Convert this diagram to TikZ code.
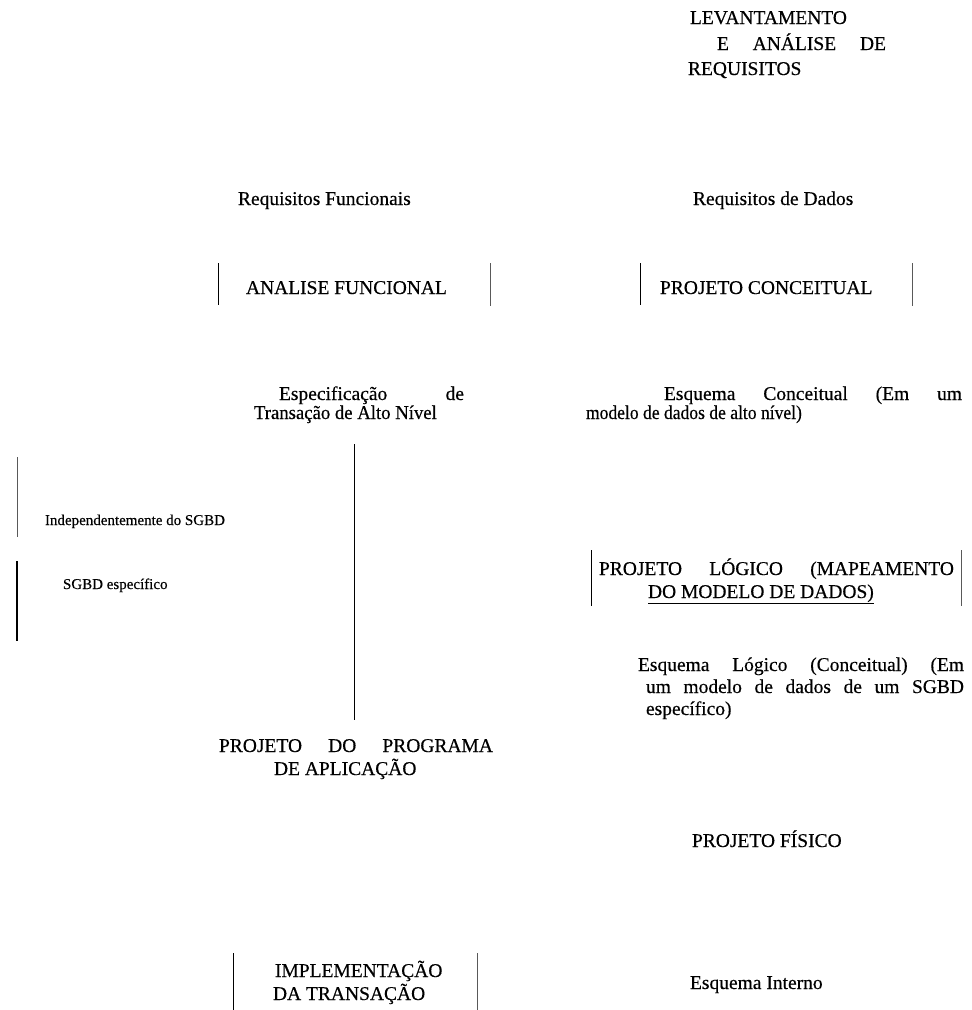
\documentclass[tikz,border=0pt]{standalone}
\usepackage{fontspec}
\setmainfont{Liberation Serif}[UprightFeatures={FakeBold=0.4}]
\begin{document}
\begin{tikzpicture}[x=1pt,y=-1pt,
  txt/.style={anchor=base west,inner sep=0pt,outer sep=0pt,font=\fontsize{19.5}{23}\selectfont},
  small/.style={anchor=base west,inner sep=0pt,outer sep=0pt,font=\fontsize{15}{18}\selectfont},
  bar/.style={line width=0.9pt,black},
  greybar/.style={line width=0.9pt,black!65}]
\useasboundingbox (0,0) rectangle (972,1010);
% top block
\node[txt] (lev1) at (690,24) {LEVANTAMENTO};
\node[txt] (lev2) at (717,50) {\makebox[169pt][s]{E\hfill ANÁLISE\hfill DE}};
\node[txt] (lev3) at (688,75) {REQUISITOS};
% requisitos
\node[txt] (reqf) at (238,205) {Requisitos Funcionais};
\node[txt] (reqd) at (693,205) {Requisitos de Dados};
% analise funcional / projeto conceitual
\node[txt] (anf) at (246,294) {ANALISE FUNCIONAL};
\node[txt] (pcon) at (660,294) {PROJETO CONCEITUAL};
\draw[bar] (218,263) -- (218,305);
\draw[greybar] (490,263) -- (490,306);
\draw[bar] (640,263) -- (640,305);
\draw[greybar] (912,263) -- (912,306);
% especificacao
\node[txt] (esp1) at (279,400) {\makebox[185pt][s]{Especificação\hfill de}};
\node[txt] (esp2) at (254,419) {\scalebox{0.96}[1]{Transação de Alto Nível}};
\node[txt] (ec1) at (664,400) {\makebox[298pt][s]{Esquema\hfill Conceitual\hfill (Em\hfill um}};
\node[txt] (ec2) at (586,419) {\scalebox{0.9}[1]{modelo de dados de alto nível)}};
% center line
\draw[bar] (354,444) -- (354,720);
% left notes
\draw[greybar] (17,457) -- (17,537);
\node[small] (ind) at (45,525) {Independentemente do SGBD};
\draw[line width=1.2pt] (17,561) -- (17,641);
\node[small] (sgbd) at (63,589) {SGBD específico};
% projeto logico
\node[txt] (pl1) at (599,575) {\makebox[355pt][s]{PROJETO\hfill LÓGICO\hfill (MAPEAMENTO}};
\node[txt] (pl2) at (648,598) {\underline{DO MODELO DE DADOS)}};
\draw[bar] (591,550) -- (591,606);
\draw[greybar] (961,550) -- (961,606);
% esquema logico
\node[txt] (el1) at (638,671) {\makebox[326pt][s]{Esquema\hfill Lógico\hfill (Conceitual)\hfill (Em}};
\node[txt] (el2) at (646,693) {\makebox[318pt][s]{um\hfill modelo\hfill de\hfill dados\hfill de\hfill um\hfill SGBD}};
\node[txt] (el3) at (646,715) {específico)};
% projeto do programa
\node[txt] (pp1) at (219,752) {\makebox[274pt][s]{PROJETO\hfill DO\hfill PROGRAMA}};
\node[txt] (pp2) at (274,775) {DE APLICAÇÃO};
% projeto fisico
\node[txt] (pf) at (692,847) {PROJETO FÍSICO};
% implementacao
\node[txt] (imp1) at (275,977) {IMPLEMENTAÇÃO};
\node[txt] (imp2) at (273,1000) {DA TRANSAÇÃO};
\draw[bar] (233,953) -- (233,1010);
\draw[greybar] (477,953) -- (477,1010);
\node[txt] (ei) at (690,989) {Esquema Interno};
\end{tikzpicture}
\end{document}
